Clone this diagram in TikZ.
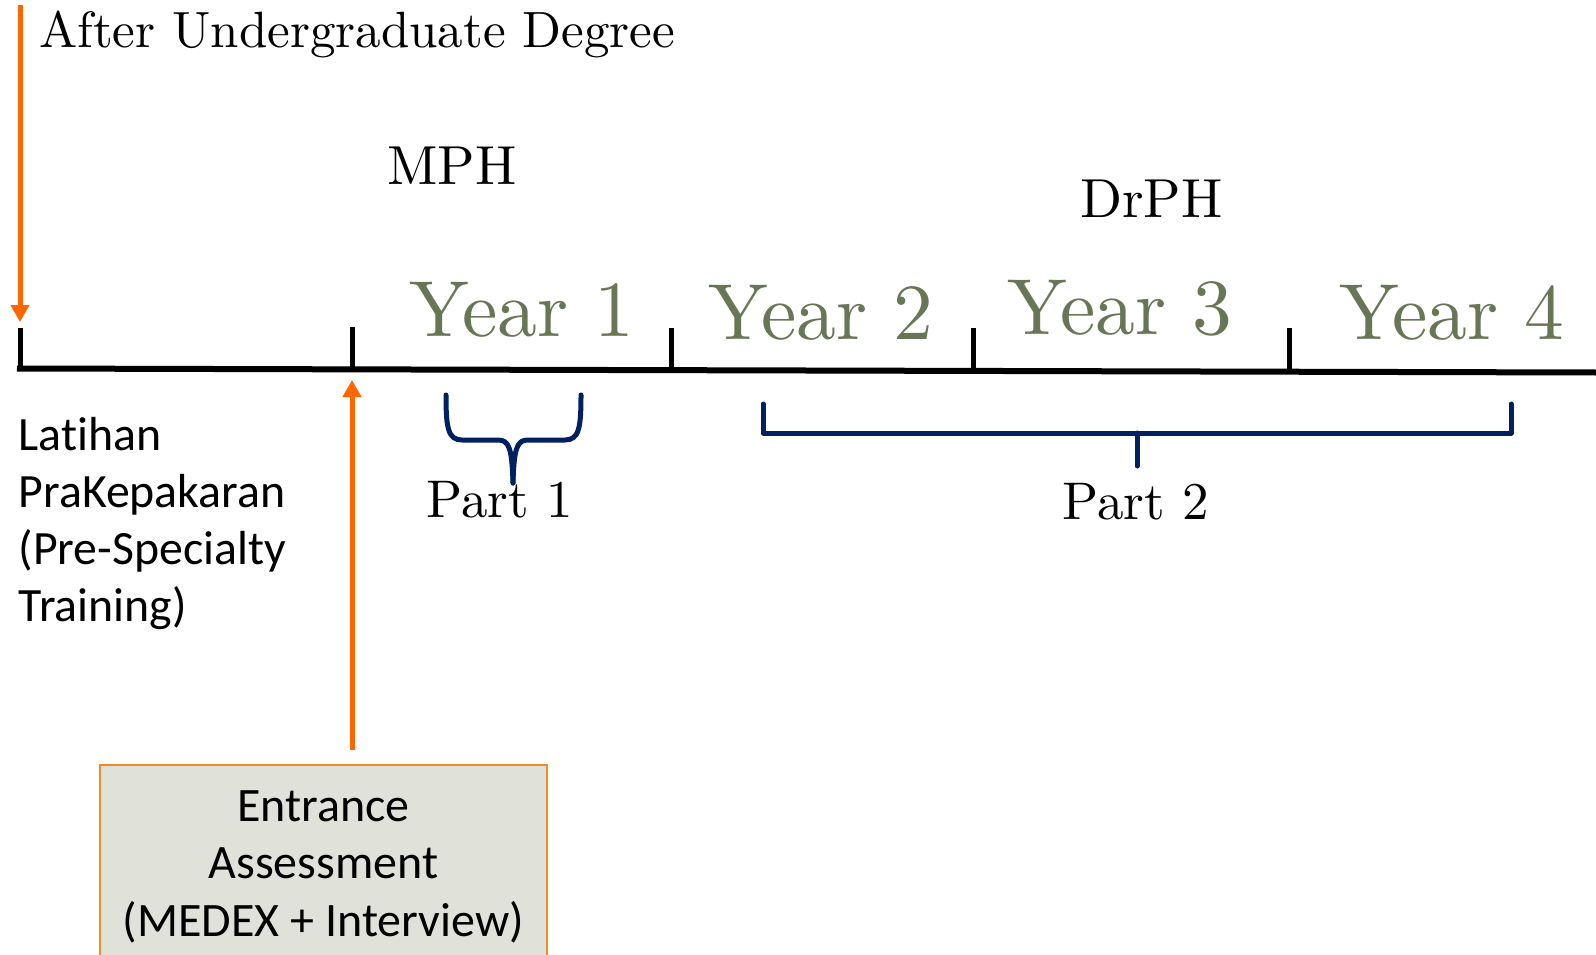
\documentclass[tikz,border=0pt]{standalone}
\usepackage{fontspec}
\usetikzlibrary{arrows.meta}
\newfontfamily\lmten{lmroman10-regular}[Extension=.otf]
\newfontfamily\carl{Carlito}[Ligatures=NoCommon]
\definecolor{arroworange}{RGB}{255,102,0}
\definecolor{boxorange}{RGB}{240,138,36}
\definecolor{boxfill}{RGB}{224,226,218}
\definecolor{navy}{RGB}{0,32,96}
\definecolor{yeargreen}{RGB}{104,118,86}
\tikzset{
  orangearrow/.style={draw=arroworange, line width=5pt, -{Triangle[width=18pt,length=17pt]}},
  axisline/.style={draw=black, line width=6pt},
  tickline/.style={draw=black, line width=5pt},
  bracket/.style={draw=navy, line width=5pt, line cap=round, line join=round},
  serifbig/.style={inner sep=0pt, font=\lmten\fontsize{51}{61}\selectfont},
  degree/.style={inner sep=0pt, font=\lmten\fontsize{55}{66}\selectfont},
  yearlabel/.style={inner sep=0pt, text=yeargreen, font=\lmten\fontsize{79.5}{95}\selectfont, anchor=base},
  partlabel/.style={inner sep=0pt, font=\lmten\fontsize{53}{63}\selectfont, anchor=base},
  sanslabel/.style={inner sep=0pt, font=\carl\fontsize{47.8}{57}\selectfont},
  entbox/.style={draw=boxorange, line width=2pt, fill=boxfill, inner sep=0pt,
     align=center, font=\carl\fontsize{48}{57.5}\selectfont}
}
\begin{document}
\begin{tikzpicture}[x=1pt,y=-1pt]
\useasboundingbox[fill=white] (0,0) rectangle (1596,955);

% texts
\node[serifbig, anchor=base west] (after) at (39,48) {After Undergraduate Degree};
\node[degree, anchor=base west] (mph) at (387,185) {MPH};
\node[degree, anchor=base west] (drph) at (1080,217) {DrPH};
\node[yearlabel] (y1) at (522,336) {Year 1};
\node[yearlabel] (y2) at (821,339) {Year 2};
\node[yearlabel] (y3) at (1120,334) {Year 3};
\node[yearlabel] (y4) at (1452,339) {Year 4};
\node[partlabel] (p1) at (500,517) {Part 1};
\node[partlabel] (p2) at (1136,519) {Part 2};
\node[sanslabel, anchor=base west, align=left] (latihan) at (18.5,621)
  {Latihan\\PraKepakaran\\(Pre-Specialty\\Training)};

% entrance box
\node[entbox, minimum width=447pt, minimum height=203pt, anchor=north] (entr) at (323.5,764)
  {Entrance\\Assessment\\(MEDEX + Interview)};

% timeline
\coordinate (lstart) at (17,368.5);
\coordinate (lend) at (1596,372.5);
\draw[axisline] (lstart) -- (lend);
\coordinate (t0) at (20,328);   \coordinate (t0b) at (20,371);
\coordinate (t1) at (352,327);  \coordinate (t1b) at (352,371);
\coordinate (t2) at (671,328);  \coordinate (t2b) at (671,372);
\coordinate (t3) at (973,328);  \coordinate (t3b) at (973,372);
\coordinate (t4) at (1289,328); \coordinate (t4b) at (1289,373);
\foreach \t in {t0,t1,t2,t3,t4}{\draw[tickline] (\t) -- (\t b);}

% arrows
\coordinate (downstart) at (20,5);
\coordinate (downtip) at (20,322);
\draw[orangearrow] (downstart) -- (downtip);
\coordinate (upstart) at (352,750);
\coordinate (uptip) at (352,380);
\draw[orangearrow] (upstart) -- (uptip);

% part 1 brace
\coordinate (b1l) at (446,395);
\coordinate (b1r) at (581,395);
\coordinate (b1tip) at (513,483);
\draw[bracket] (b1l) .. controls (446,428) and (448,440) .. (462,440) -- (498,440)
   .. controls (509,440) and (512,448) .. (b1tip);
\draw[bracket] (b1r) .. controls (581,428) and (579,440) .. (565,440) -- (528,440)
   .. controls (517,440) and (514,448) .. (b1tip);

% part 2 bracket
\coordinate (b2l) at (763,404);
\coordinate (b2r) at (1511,404);
\coordinate (b2m) at (1137,433);
\coordinate (b2stem) at (1137,466);
\draw[bracket] (b2l) |- (b2m) -| (b2r);
\draw[bracket] (b2m) -- (b2stem);
\end{tikzpicture}
\end{document}
